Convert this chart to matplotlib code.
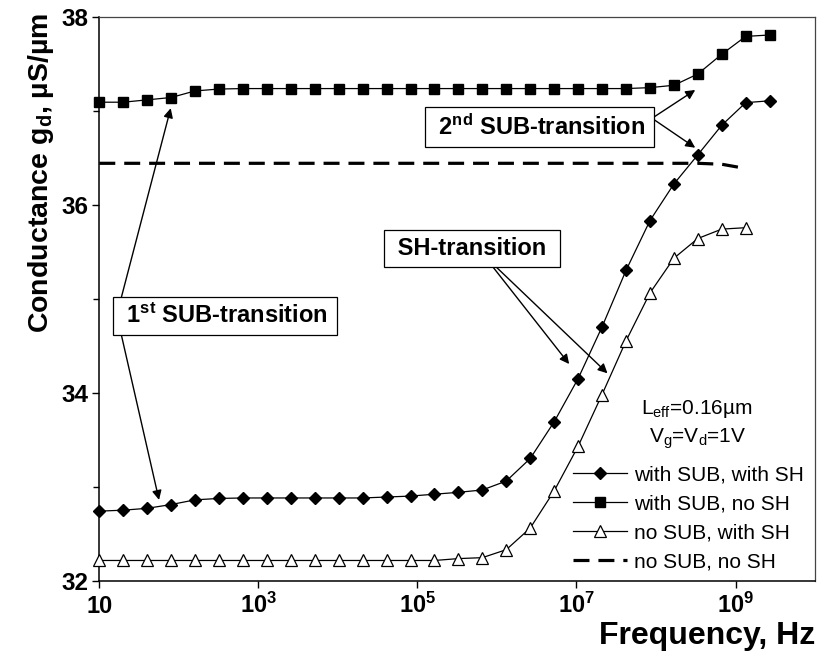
import matplotlib
matplotlib.use("Agg")
import matplotlib.pyplot as plt
from matplotlib.ticker import NullLocator, FixedLocator

plt.rcParams['font.family'] = ['Liberation Sans', 'DejaVu Sans']
plt.rcParams['mathtext.fontset'] = 'custom'
plt.rcParams['mathtext.rm'] = 'Liberation Sans'
plt.rcParams['mathtext.it'] = 'Liberation Sans:italic'
plt.rcParams['mathtext.bf'] = 'Liberation Sans:bold'

# Frequency grid, Hz
freq = [10, 20, 40, 80, 160, 320, 640, 1.28e3, 2.56e3, 5.12e3, 1.024e4,
        2.048e4, 4.096e4, 8.192e4, 1.638e5, 3.277e5, 6.554e5, 1.311e6,
        2.621e6, 5.243e6, 1.049e7, 2.097e7, 4.194e7, 8.389e7, 1.678e8,
        3.355e8, 6.711e8, 1.342e9, 2.684e9]

# Output conductance g_d, uS/um
gd_sub_sh = [32.74, 32.75, 32.77, 32.81, 32.86, 32.875, 32.88, 32.88, 32.88,
             32.88, 32.88, 32.88, 32.89, 32.90, 32.92, 32.94, 32.965, 33.06,
             33.30, 33.69, 34.15, 34.70, 35.30, 35.83, 36.22, 36.53, 36.845,
             37.085, 37.105]
gd_sub_nosh = [37.09, 37.09, 37.115, 37.14, 37.21, 37.23, 37.235, 37.235,
               37.235, 37.235, 37.235, 37.235, 37.235, 37.235, 37.235, 37.235,
               37.235, 37.235, 37.235, 37.235, 37.235, 37.235, 37.235, 37.245,
               37.27, 37.39, 37.60, 37.79, 37.805]
gd_nosub_sh = [32.215, 32.215, 32.215, 32.215, 32.215, 32.215, 32.215, 32.215,
               32.215, 32.215, 32.215, 32.215, 32.215, 32.215, 32.215, 32.235,
               32.245, 32.33, 32.56, 32.955, 33.43, 33.98, 34.55, 35.06, 35.43,
               35.64, 35.74, 35.755]
gd_nosub_nosh = [36.44] * 26 + [36.43, 36.385]

labels = ["with SUB, with SH", "with SUB, no SH", "no SUB, with SH",
          "no SUB, no SH"]

xticks = [10, 1e3, 1e5, 1e7, 1e9]
xticklabels = ["10", r"$\mathdefault{10^{3}}$", r"$\mathdefault{10^{5}}$",
               r"$\mathdefault{10^{7}}$", r"$\mathdefault{10^{9}}$"]
yticks = [32, 34, 36, 38]
yminor = [33, 35, 37]

fig = plt.figure(figsize=(8.18, 6.61), dpi=100)
ax = fig.add_axes([0.1214, 0.1215, 0.875, 0.8533])
ax.set_xscale('log')
ax.set_xlim(10, 1e10)
ax.set_ylim(32, 38)

ax.plot(freq, gd_sub_sh, color='black', lw=0.9, marker='D', ms=6.2,
        mfc='black', mec='black', label=labels[0], clip_on=False, zorder=4)
ax.plot(freq, gd_sub_nosh, color='black', lw=0.9, marker='s', ms=7.8,
        mfc='black', mec='black', label=labels[1], clip_on=False, zorder=4)
ax.plot(freq[:len(gd_nosub_sh)], gd_nosub_sh, color='black', lw=0.9,
        marker='^', ms=9.3, mfc='white', mec='black', mew=0.9,
        label=labels[2], clip_on=False, zorder=4)
ax.plot(freq[:len(gd_nosub_nosh)], gd_nosub_nosh, color='black', lw=2.3,
        ls=(0, (5, 2.8)), label=labels[3], zorder=3)

# axes, ticks
ax.set_xticks(xticks, xticklabels, fontsize=17, fontweight='bold',
              va='baseline')
ax.xaxis.set_minor_locator(NullLocator())
ax.set_yticks(yticks, [str(v) for v in yticks], fontsize=17.5,
              fontweight='bold')
ax.yaxis.set_minor_locator(FixedLocator(yminor))
ax.tick_params(axis='x', which='major', direction='out', length=5,
               width=1, pad=18.5)
ax.tick_params(axis='y', which='major', direction='out', length=5,
               width=1, pad=2.5)
ax.tick_params(axis='y', which='minor', direction='out', length=4, width=1)
ax.tick_params(top=False, right=False)
for side in ('left', 'bottom'):
    ax.spines[side].set_linewidth(1.1)
    ax.spines[side].set_color('black')
for side in ('top', 'right'):
    ax.spines[side].set_linewidth(0.9)
    ax.spines[side].set_color('#444444')

ax.set_xlabel("Frequency, Hz", fontsize=23, fontweight='bold', loc='right')
ax.xaxis.set_label_coords(1.0, -0.0715)
ax.set_ylabel(r"Conductance g$_\mathdefault{d}$, µS/µm", fontsize=20.5,
              fontweight='bold', loc='top')
ax.yaxis.set_label_coords(-0.0605, 1.0066)

# legend
ax.legend(loc='upper left', bbox_to_anchor=(0.662, 0.2051), frameon=False,
          fontsize=15, borderpad=0, borderaxespad=0, labelspacing=0.48,
          handlelength=2.6, handletextpad=0.3, numpoints=1)

# operating point
ax.text(10**8.519, 33.768, r"L$_\mathdefault{eff}$=0.16µm", fontsize=15,
        ha='center', va='baseline')
ax.text(10**8.519, 33.465,
        r"V$_\mathdefault{g}$=V$_\mathdefault{d}$=1V", fontsize=15,
        ha='center', va='baseline')

# transition annotations
box = dict(boxstyle='square,pad=0.3', fc='white', ec='black', lw=0.9)
arrow = dict(arrowstyle='-|>', color='black', lw=1.0, mutation_scale=14,
             shrinkA=0, shrinkB=0)


def callout(text, center, starts, tips):
    for (sx, sy), (tx, ty) in zip(starts, tips):
        ax.annotate('', xy=(10**tx, ty), xytext=(10**sx, sy),
                    arrowprops=arrow, zorder=5)
    ax.text(10**center[0], center[1], text, fontsize=17, fontweight='bold',
            ha='center', va='center', bbox=box, zorder=6)


callout(r" 1$^\mathdefault{st}$ SUB-transition ", (2.581, 34.816),
        [(1.273, 35.0), (1.273, 34.63)],
        [(1.898, 37.026), (1.751, 32.859)])
callout(r" 2$^\mathdefault{nd}$ SUB-transition ", (6.536, 36.824),
        [(7.95, 36.919), (7.95, 36.919)],
        [(8.493, 37.220), (8.493, 36.606)])
callout(" SH-transition ", (5.688, 35.536),
        [(5.956, 35.33), (5.999, 35.33)],
        [(6.908, 34.305), (7.390, 34.206)])

fig.savefig("out.png", dpi=100)
